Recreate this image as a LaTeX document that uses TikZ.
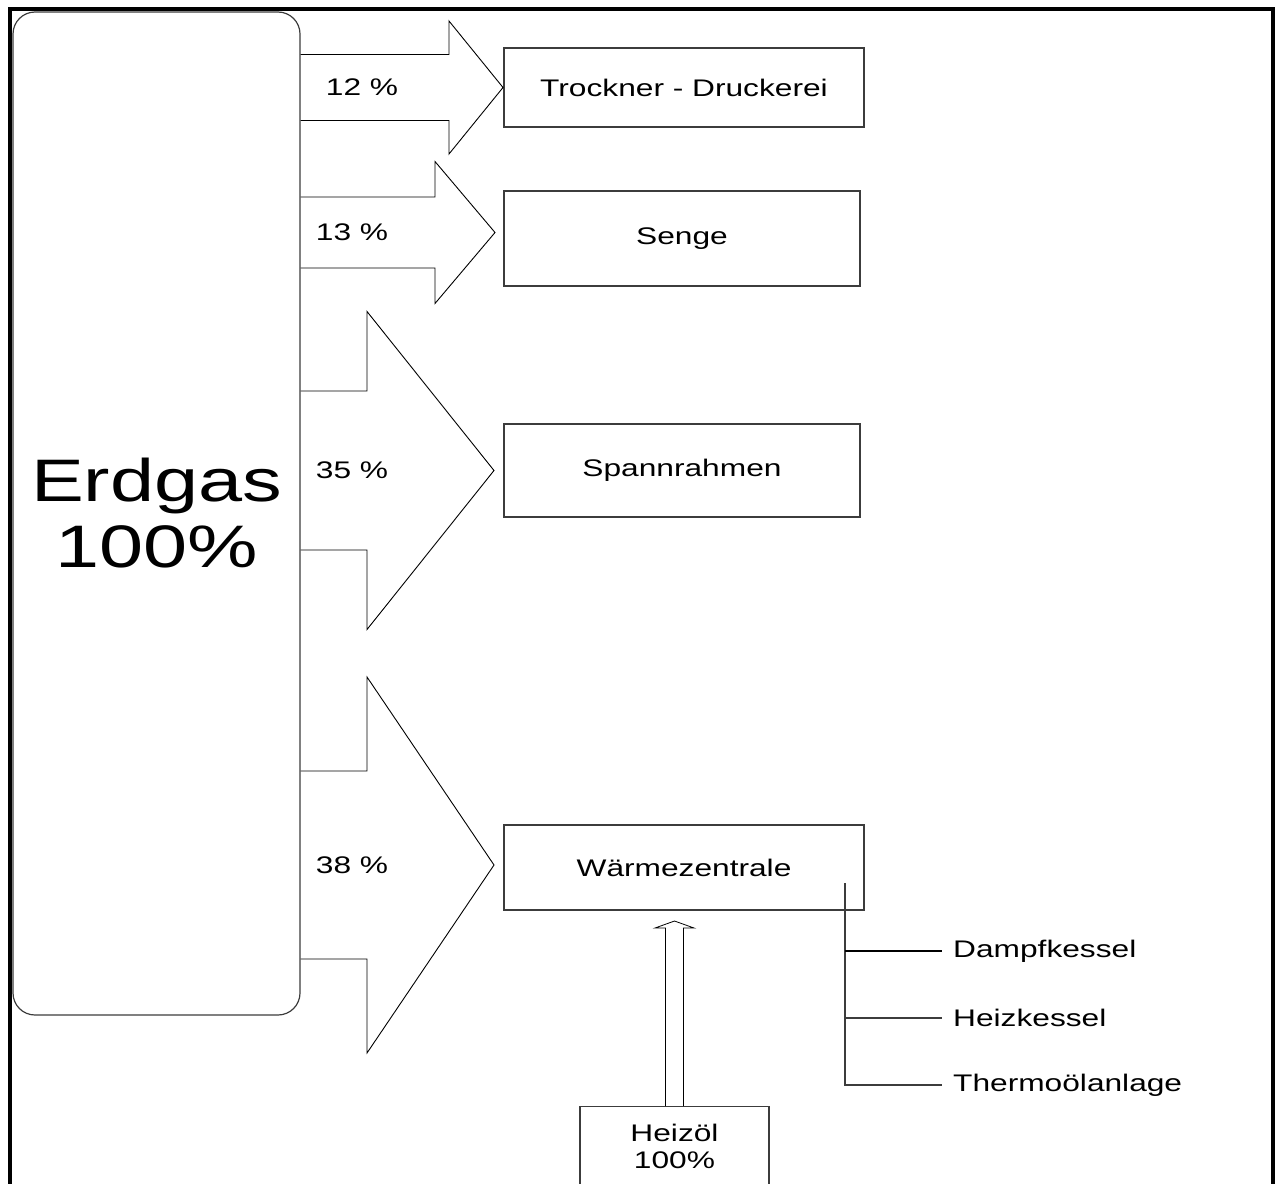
\documentclass[tikz,border=0pt]{standalone}
\usepackage{fontspec}
\setmainfont[FakeStretch=1.32]{Liberation Sans}
\usetikzlibrary{positioning}
\definecolor{edgegray}{RGB}{60,60,60}

\begin{document}
\begin{tikzpicture}[x=1pt, y=-1pt,
  box/.style={draw=edgegray, line width=1.2pt, minimum width=360pt, minimum height=85pt,
              inner sep=0pt, font=\fontsize{24}{27}\selectfont},
  flow/.style={draw=black, line width=0.9pt, line join=miter},
  pct/.style={font=\fontsize{24}{27}\selectfont},
  tag/.style={anchor=west, inner xsep=11pt, font=\fontsize{24}{27}\selectfont}]
  \useasboundingbox (0,0) rectangle (1276,1183);

  % outer frame, open at the bottom
  \draw[line width=4.5pt] (10,1195) -- (10,9) -- (1273,9) -- (1273,1195);

  % source
  \node[draw=edgegray, line width=1.2pt, rounded corners=22pt, minimum width=287pt,
        minimum height=1003pt, align=center, font=\fontsize{60}{66}\selectfont]
        (erdgas) at (156.5,513.5) {Erdgas\\100\%};

  % consumers
  \node[box, minimum height=79pt] (trockner) at (684,87.5) {Trockner - Druckerei};
  \node[box, minimum width=356pt, minimum height=95pt] (senge) at (682,238.5) {Senge};
  \node[box, minimum width=356pt, minimum height=93pt] (spann) at (682,470.5) {Spannrahmen};
  \node[box] (waerme) at (684,867.5) {Wärmezentrale};
  \node[box, minimum width=189pt, minimum height=80pt, anchor=north, align=center]
        (heizoel) at (674.5,1106) {Heizöl\\100\%};

  % block arrows: centre / shaft half / head x / head half / tip x / label x / share
  \foreach \yc/\sh/\hx/\hh/\tx/\lx/\pc in {87.5/33/449/66.5/503/362/12,
      232.5/35.5/435/71/495/352/13, 470.5/79.5/367/159/494/352/35, 865/94/367/188/494/352/38} {
    \draw[flow] (erdgas.east |- 0,\yc-\sh) -- (\hx,\yc-\sh) -- (\hx,\yc-\hh) -- (\tx,\yc)
      -- (\hx,\yc+\hh) -- (\hx,\yc+\sh) -- (erdgas.east |- 0,\yc+\sh);
    \node[pct] (pct\pc) at (\lx,\yc) {\pc~\%};
  }

  % oil supply
  \draw[flow, line width=0.8pt] ([xshift=-9pt]heizoel.north) -- ++(0,-178) -- ++(-10.5,0)
    -- ++(19.5,-7) -- ++(19.5,7) -- ++(-10.5,0) -- ++(0,178);

  % boiler branches
  \coordinate (tap) at (845,883);
  \node[tag] (dampf) at (942,951) {Dampfkessel};
  \node[tag] (heiz) at (942,1018) {Heizkessel};
  \node[tag] (thermo) at (942,1085) {Thermoölanlage};
  \draw[edgegray, line width=1.2pt] (tap) |- (thermo.west);
  \draw[edgegray, line width=1.2pt] (tap |- heiz.west) -- (heiz.west);
  \draw[black, line width=2.2pt] (tap |- dampf.west) -- (dampf.west);
\end{tikzpicture}
\end{document}
